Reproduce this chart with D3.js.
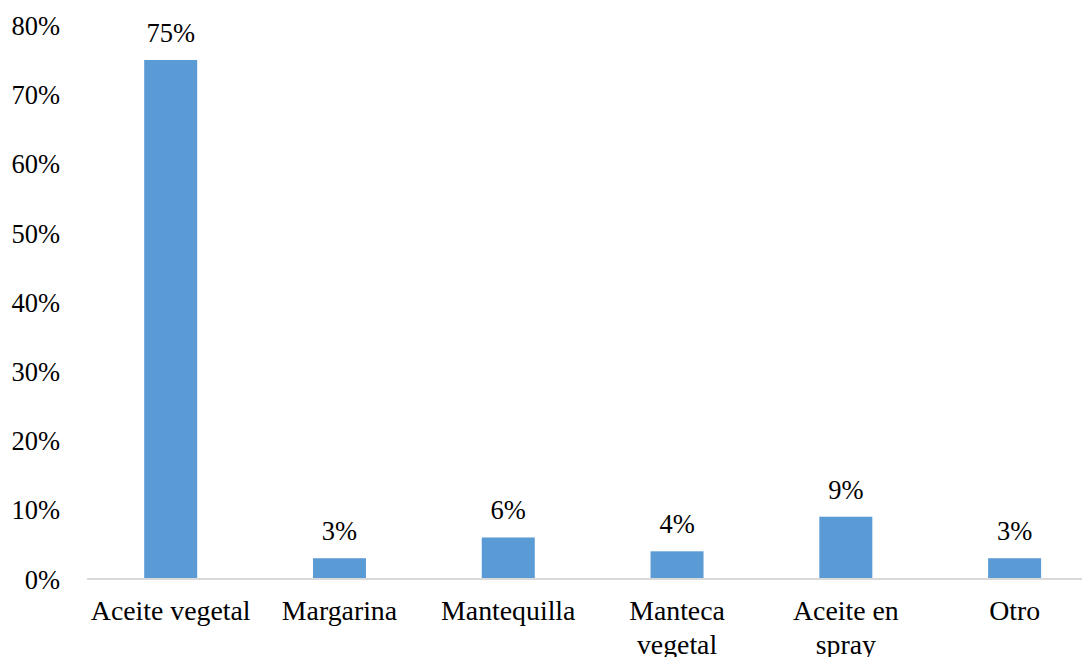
<!DOCTYPE html>
<html><head><meta charset="utf-8">
<script src="https://cdn.jsdelivr.net/npm/d3@7"></script>
<style>html,body{margin:0;padding:0;background:#fff;}svg{display:block;}</style>
</head><body>
<svg id="c" width="1082" height="657"></svg>
<script>
const categories = ["Aceite vegetal", "Margarina", "Mantequilla", "Manteca vegetal", "Aceite en spray", "Otro"];
const values = [75, 3, 6, 4, 9, 3];
const yTicks = [0, 10, 20, 30, 40, 50, 60, 70, 80];

const svg = d3.select("#c");
const font = "Liberation Serif, Times New Roman, serif";
const fs = 26.5;
const fsCat = 27.8;

const x = d3.scaleBand().domain(categories).range([86.3, 1099]).padding(0);
const y = d3.scaleLinear().domain([0, 80]).range([579, 25.4]);
const barW = x.bandwidth() * 0.314;

// y tick labels
const yAxis = d3.axisLeft(y).tickValues(yTicks).tickFormat(d => d + "%").tickSize(0).tickPadding(0);
const yg = svg.append("g").attr("transform", "translate(60,0)").call(yAxis);
yg.select(".domain").remove();
yg.selectAll("text").attr("font-family", font).attr("font-size", fs).attr("fill", "#000").attr("dy", "0.34em");

// bars
svg.append("g").selectAll("rect").data(values).join("rect")
  .attr("x", (d, i) => x(categories[i]) + x.bandwidth() / 2 - barW / 2)
  .attr("width", barW)
  .attr("y", d => y(d))
  .attr("height", d => y(0) - y(d))
  .attr("fill", "#5B9BD5");

// x axis
const xAxis = d3.axisBottom(x).tickSize(0).tickPadding(0);
const xg = svg.append("g").attr("transform", "translate(0," + y(0) + ")").call(xAxis);
xg.select(".domain").attr("stroke", "#d9d9d9").attr("stroke-width", 2).attr("d", "M87,0H1082");
xg.selectAll("text").attr("font-family", font).attr("font-size", fsCat).attr("fill", "#000")
  .attr("dy", null).attr("y", 41)
  .each(function(d) {
    const t = d3.select(this);
    const words = d.split(" ");
    t.text(null);
    let line = [];
    let ts = t.append("tspan").attr("x", 0).attr("y", 41);
    let lineNo = 0;
    for (const w of words) {
      line.push(w);
      ts.text(line.join(" "));
      if (ts.node().getComputedTextLength() > x.bandwidth() - 4 && line.length > 1) {
        line.pop();
        ts.text(line.join(" "));
        line = [w];
        lineNo++;
        ts = t.append("tspan").attr("x", 0).attr("y", 41 + lineNo * 34).text(w);
      }
    }
  });

// value labels
svg.append("g").selectAll("text").data(values).join("text")
  .attr("x", (d, i) => x(categories[i]) + x.bandwidth() / 2)
  .attr("y", d => y(d) - 18)
  .attr("text-anchor", "middle")
  .attr("font-family", font).attr("font-size", fs).attr("fill", "#000")
  .text(d => d + "%");
</script>
</body></html>
